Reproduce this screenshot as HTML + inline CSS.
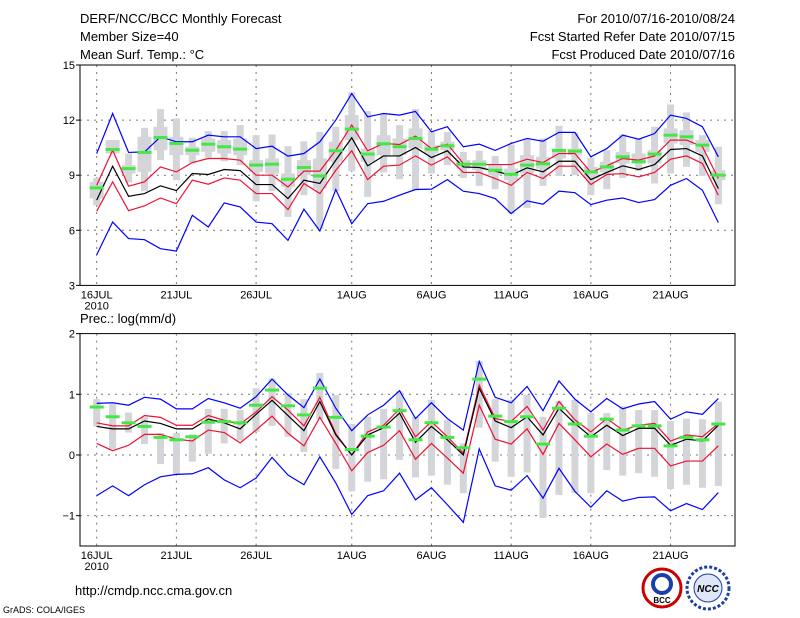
<!DOCTYPE html>
<html><head><meta charset="utf-8">
<style>
body{margin:0;background:#fff;width:800px;height:618px;overflow:hidden}
svg{display:block}
text{font-family:"Liberation Sans",sans-serif;fill:#000}
</style></head><body>
<svg id="chart" width="800" height="618">
<g font-size="13">
<text x="80" y="23">DERF/NCC/BCC Monthly Forecast</text>
<text x="80" y="41">Member Size=40</text>
<text x="80" y="59">Mean Surf. Temp.: °C</text>
<text x="735" y="23" text-anchor="end">For 2010/07/16-2010/08/24</text>
<text x="735" y="41" text-anchor="end">Fcst Started Refer Date 2010/07/15</text>
<text x="735" y="59" text-anchor="end">Fcst Produced Date 2010/07/16</text>
<text x="80" y="323">Prec.: log(mm/d)</text>
<text x="75" y="595">http://cmdp.ncc.cma.gov.cn</text>
<text x="3" y="613" font-size="9">GrADS: COLA/IGES</text>
</g>
<g>
<circle cx="662" cy="588" r="19" fill="#fff" stroke="#c00" stroke-width="3"/>
<circle cx="662" cy="584" r="9" fill="none" stroke="#1a3fa8" stroke-width="4"/>
<text x="662" y="603" font-size="8" text-anchor="middle" font-weight="bold" fill="#1a3fa8">BCC</text>
<circle cx="708" cy="588" r="21" fill="#fff" stroke="#1a3fa8" stroke-width="3" stroke-dasharray="3 2"/>
<circle cx="708" cy="588" r="14" fill="#dfe6f7" stroke="#1a3fa8"/>
<text x="708" y="592" font-size="10" text-anchor="middle" font-weight="bold" font-style="italic" fill="#1a3fa8">NCC</text>
</g>
</svg>
<script>
// ---- Temperature panel data ----
const days=["16JUL","21JUL","26JUL","1AUG","6AUG","11AUG","16AUG","21AUG"];
const dayIdx=[0,5,10,16,21,26,31,36];
const tTicks=[3,6,9,12,15];
const pTicks=[-1,0,1,2];
const tMax=[10.18,12.36,10.24,10.27,11.09,10.82,10.82,11.18,11.09,11.09,10.45,10.58,10.04,10.18,10.82,12.0,13.45,12.18,12.36,12.27,12.47,11.36,11.64,10.55,10.69,10.35,10.73,11.0,10.85,11.33,11.33,10.0,10.45,11.18,10.96,11.27,12.27,12.09,11.64,10.0];
const tUp=[8.45,10.36,8.4,8.64,9.45,9.18,9.69,9.91,9.91,9.82,9.0,9.0,8.36,9.22,9.22,10.36,11.73,10.33,10.73,10.67,11.13,10.45,10.69,9.64,9.58,9.58,9.58,9.87,9.69,10.18,10.18,9.15,9.51,9.91,9.82,10.05,10.91,10.91,10.55,8.82];
const tMean=[7.64,9.49,7.85,8.0,8.42,8.16,9.09,9.04,9.31,9.25,8.49,8.49,7.73,8.73,8.55,9.82,11.04,9.51,10.05,10.05,10.51,9.96,10.33,9.45,9.42,9.22,9.0,9.4,9.18,9.76,9.76,8.76,9.15,9.51,9.31,9.58,10.4,10.45,10.05,8.27];
const tLow=[7.04,8.64,7.07,7.33,7.76,7.45,8.73,8.51,8.85,8.73,8.0,8.0,7.13,8.55,8.0,9.27,10.33,8.76,9.49,9.55,10.05,9.55,10.0,9.15,9.15,8.82,8.45,9.15,8.82,9.49,9.49,8.49,9.04,9.09,8.91,9.15,9.87,10.05,9.64,7.91];
const tMin=[4.67,6.45,5.55,5.49,5.0,4.87,6.82,6.18,7.49,7.27,6.45,6.36,5.45,7.15,5.96,8.22,6.36,7.45,7.58,7.91,8.22,8.24,8.76,8.13,8.0,7.73,6.91,7.6,7.42,8.13,8.05,7.4,7.64,7.76,7.51,7.67,8.45,8.82,8.18,6.42];
const tObs=[8.31,10.4,9.36,10.24,11.05,10.73,10.36,10.69,10.55,10.42,9.55,9.6,8.78,9.42,8.96,10.33,11.51,10.15,10.71,10.55,11.0,10.42,10.6,9.6,9.6,9.27,9.05,9.55,9.62,10.35,10.31,9.18,9.45,10.0,9.73,10.15,11.18,11.09,10.64,9.0];
const tWHi=[8.85,10.91,10.18,11.58,12.6,12.09,11.04,11.4,11.4,11.73,11.18,11.22,10.58,10.85,11.36,11.64,13.51,12.49,12.36,11.73,12.6,11.4,11.36,10.27,10.33,10.05,10.67,10.96,11.0,11.69,11.31,9.95,10.36,11.22,10.96,11.64,12.85,12.42,11.18,10.55];
const tWLo=[7.36,10.18,8.6,8.13,9.82,8.73,9.64,9.95,9.76,9.55,7.58,8.13,6.73,7.91,6.09,8.13,9.22,7.82,9.15,8.78,8.18,9.09,9.55,8.85,8.42,8.24,6.91,7.22,8.42,8.95,9.0,7.91,8.24,8.85,9.22,8.55,9.09,9.45,8.96,7.42];
const tBHi=[8.64,10.91,9.55,11.09,11.64,11.09,10.55,11.0,10.91,11.0,9.82,9.91,9.09,9.82,9.91,10.82,12.27,10.45,11.18,11.0,11.55,10.64,10.82,9.82,9.82,9.55,9.36,10.09,10.0,10.36,10.45,9.45,9.73,10.27,10.18,10.36,11.55,11.45,10.91,9.27];
const tBLo=[7.73,10.18,9.09,9.18,10.36,10.09,10.09,10.27,10.18,10.09,9.18,9.09,8.36,9.0,8.27,9.73,10.91,9.73,10.09,10.09,10.45,10.18,10.36,9.36,9.27,9.0,8.73,9.09,9.36,9.91,10.09,8.82,9.15,9.64,9.64,9.64,10.73,10.64,10.27,8.73];
// ---- Precipitation panel data ----
const pMax=[0.85,0.86,0.82,0.95,0.92,0.76,0.76,0.93,0.86,0.77,0.96,1.25,0.99,0.78,1.25,0.77,0.40,0.66,0.82,1.06,0.60,0.86,0.60,0.41,1.54,0.95,0.86,1.13,0.73,1.22,0.92,0.71,0.93,0.76,0.84,0.88,0.59,0.71,0.67,0.93];
const pUp=[0.53,0.48,0.48,0.65,0.62,0.49,0.49,0.65,0.57,0.51,0.71,0.96,0.74,0.48,0.95,0.35,0.0,0.38,0.49,0.76,0.30,0.55,0.30,0.03,1.15,0.60,0.55,0.80,0.41,0.88,0.58,0.38,0.60,0.41,0.49,0.52,0.23,0.33,0.30,0.52];
const pMean=[0.47,0.43,0.43,0.56,0.52,0.43,0.43,0.59,0.53,0.43,0.67,0.90,0.65,0.40,0.88,0.33,0.0,0.33,0.45,0.69,0.21,0.47,0.25,0.0,1.10,0.56,0.45,0.63,0.33,0.77,0.52,0.30,0.49,0.32,0.44,0.44,0.16,0.26,0.23,0.49];
const pLow=[0.19,0.07,0.16,0.34,0.34,0.26,0.23,0.41,0.37,0.20,0.41,0.64,0.36,0.15,0.62,0.19,-0.26,0.04,0.16,0.40,-0.07,0.19,-0.05,-0.30,0.82,0.26,0.18,0.43,0.01,0.52,0.25,-0.03,0.18,0.01,0.11,0.11,-0.18,-0.10,-0.10,0.15];
const pMin=[-0.67,-0.51,-0.67,-0.49,-0.36,-0.32,-0.31,-0.21,-0.41,-0.54,-0.38,-0.04,-0.33,-0.49,-0.03,-0.46,-0.98,-0.67,-0.59,-0.30,-0.74,-0.54,-0.82,-1.11,0.10,-0.51,-0.58,-0.34,-0.71,-0.22,-0.60,-0.86,-0.59,-0.76,-0.70,-0.69,-0.92,-0.80,-0.90,-0.62];
const pObs=[0.79,0.63,0.53,0.47,0.29,0.25,0.30,0.54,0.55,0.53,0.82,1.07,0.81,0.66,1.10,0.62,0.09,0.31,0.46,0.73,0.25,0.53,0.29,0.12,1.25,0.64,0.55,0.63,0.18,0.77,0.51,0.31,0.59,0.41,0.48,0.48,0.15,0.29,0.25,0.51];
const pWHi=[0.92,0.84,0.70,0.63,0.36,0.36,0.34,0.76,0.76,0.74,1.10,1.26,1.02,0.92,1.35,0.99,0.51,0.63,0.76,1.05,0.63,0.91,0.58,0.19,1.55,0.92,0.91,0.99,0.63,0.89,0.91,0.69,0.69,0.80,0.74,0.74,0.56,0.60,0.59,0.88];
const pWLo=[0.47,0.10,0.37,0.18,-0.15,-0.33,-0.11,0.02,0.19,0.24,0.38,0.48,0.30,0.05,0.59,-0.23,-0.60,-0.44,-0.40,-0.08,-0.37,-0.34,-0.49,-0.63,0.45,-0.11,-0.36,-0.29,-1.04,-0.66,-0.63,-0.63,-0.25,-0.34,-0.30,-0.36,-0.56,-0.49,-0.54,-0.51];

const NS='http://www.w3.org/2000/svg';
const svg=document.getElementById('chart');
const X0=96.7, DX=15.94, L=80, R=735;
const xs=i=>X0+DX*i;
function mk(tag,attrs,parent){const e=document.createElementNS(NS,tag);for(const k in attrs)e.setAttribute(k,attrs[k]);(parent||svg).appendChild(e);return e;}
function panel(name,top,bot,vmin,vmax,ticks,gridVals,series,obs,wHi,wLo,bHi,bLo,tickFmt){
  const g=mk('g',{});
  
  
  const ys=v=>bot-(v-vmin)/(vmax-vmin)*(bot-top);
  // grid
  gridVals.forEach(v=>{const l=mk('line',{x1:L,x2:R,y1:ys(v),y2:ys(v),stroke:'#777','stroke-dasharray':'2 5'},g);
    
    });
  dayIdx.forEach((d,k)=>{const l=mk('line',{x1:xs(d),x2:xs(d),y1:top,y2:bot,stroke:'#777','stroke-dasharray':'2 5'},g);
    
    
    const t=mk('text',{x:xs(d),y:bot+13,'font-size':11,'text-anchor':'middle'},g);t.textContent=days[k];
    
    });
  const yr=mk('text',{x:xs(0),y:bot+24,'font-size':11,'text-anchor':'middle'},g);yr.textContent='2010';
  
  
  ticks.forEach(v=>{const t=mk('text',{x:L-5,y:ys(v)+4,'font-size':11,'text-anchor':'end'},g);t.textContent=tickFmt(v);
    
    
    mk('line',{x1:L-4,x2:L,y1:ys(v),y2:ys(v),stroke:'#000'},g);});
  // boxes
  wHi.forEach((h,i)=>{const r=mk('rect',{x:xs(i)-3.5,y:ys(h),width:7,height:Math.max(1,ys(wLo[i])-ys(h)),fill:'#d3d5d9'},g);
    
    
    if(bHi){const b=mk('rect',{x:xs(i)-7,y:ys(bHi[i]),width:14,height:Math.max(1,ys(bLo[i])-ys(bHi[i])),fill:'#d3d5d9'},g);
      
      }});
  series.forEach(([arr,col,nm])=>{const p=mk('polyline',{points:arr.map((v,i)=>xs(i)+','+ys(v)).join(' '),fill:'none',stroke:col,'stroke-width':1.2},g);
    
    });
  obs.forEach((v,i)=>{const r=mk('rect',{x:xs(i)-7,y:ys(v)-1.5,width:14,height:3,fill:'#44e844'},g);
    
    });
  const f=mk('rect',{x:L,y:top,width:R-L,height:bot-top,fill:'none',stroke:'#000','stroke-width':1},g);
  
  
}
panel('temperature-panel',65,285.4,3,15,tTicks,[6,9,12],
 [[tMax,'#0000ff','max-line'],[tUp,'#ee1133','upper-line'],[tMean,'#000','mean-line'],[tLow,'#ee1133','lower-line'],[tMin,'#0000ff','min-line']],
 tObs,tWHi,tWLo,tBHi,tBLo,v=>String(v));
panel('precip-panel',333.6,546,-1.5,2,pTicks,[-1,0,1],
 [[pMax,'#0000ff','max-line'],[pUp,'#ee1133','upper-line'],[pMean,'#000','mean-line'],[pLow,'#ee1133','lower-line'],[pMin,'#0000ff','min-line']],
 pObs,pWHi,pWLo,null,null,v=>v<0?'−'+(-v):String(v));
</script>
</body></html>
